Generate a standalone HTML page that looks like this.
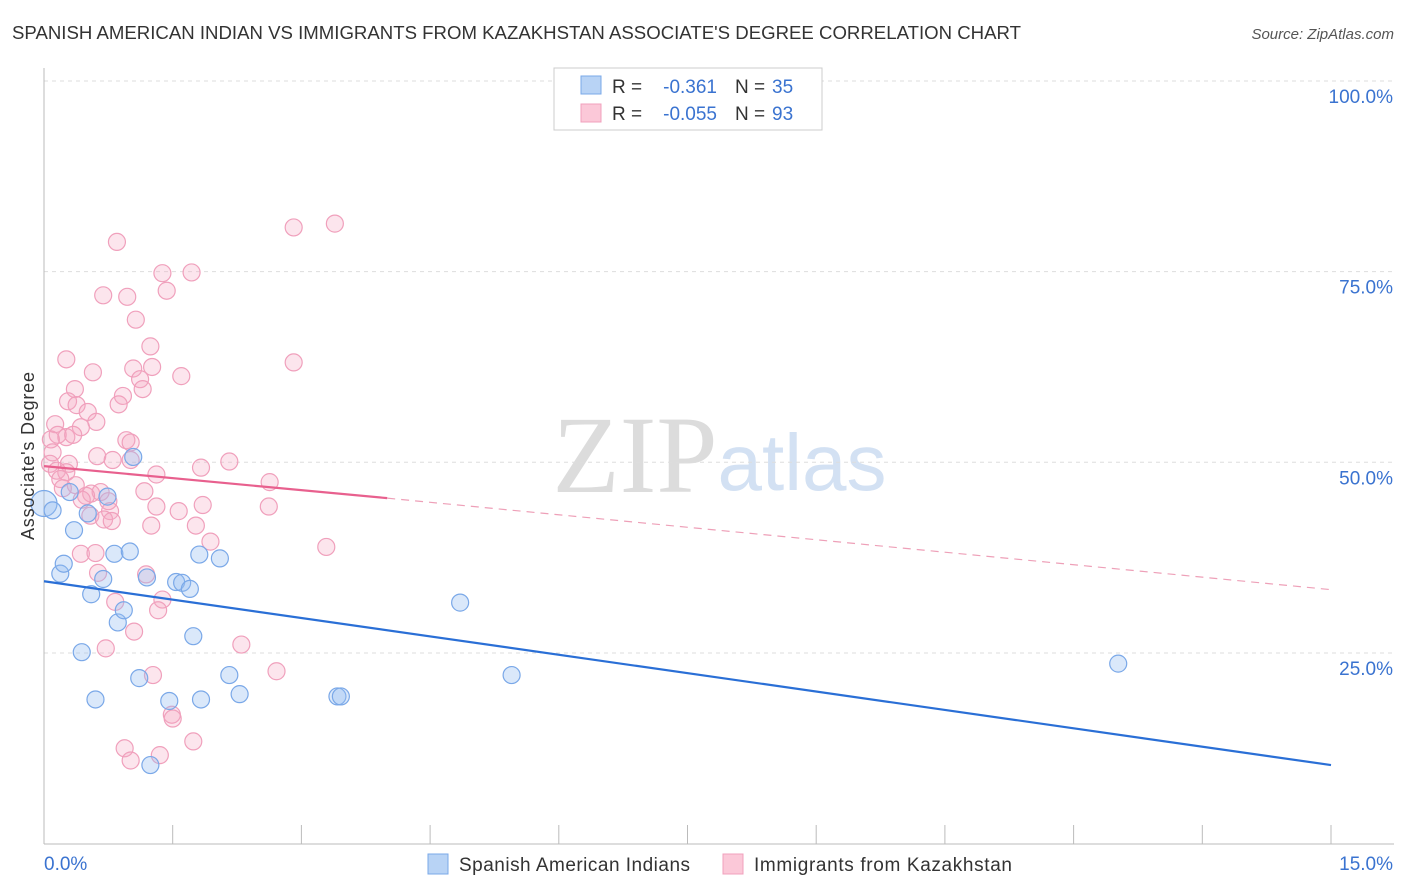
<!DOCTYPE html>
<html><head><meta charset="utf-8">
<style>
body{margin:0;background:#fff;font-family:"Liberation Sans",sans-serif;}
svg{display:block}
</style></head>
<body>
<svg id="chart" width="1406" height="892">
<text x="12" y="39" font-size="18" fill="#333" textLength="1009" lengthAdjust="spacingAndGlyphs">SPANISH AMERICAN INDIAN VS IMMIGRANTS FROM KAZAKHSTAN ASSOCIATE'S DEGREE CORRELATION CHART</text>
<text x="1394" y="39" font-size="15" fill="#555" font-style="italic" text-anchor="end">Source: ZipAtlas.com</text>
<g>
<text x="635" y="492" font-size="110" fill="#dcdcdc" font-family="Liberation Serif,serif" text-anchor="middle">ZIP</text>
<text x="802" y="490" font-size="80" fill="#d3e1f3" text-anchor="middle">atlas</text>
</g>
<g id="grid"></g>
<g id="axes"></g>
<g id="points"></g>
<g id="lines"></g>
<text transform="translate(34,456) rotate(-90)" font-size="18" fill="#333" text-anchor="middle" textLength="168">Associate's Degree</text>
<g>
<rect x="554" y="68" width="268" height="62" fill="#fff" stroke="#ccc"/>
<rect x="581" y="76" width="20" height="18" fill="#b8d3f5" stroke="#7aa8e8"/>
<rect x="581" y="104" width="20" height="18" fill="#fbc8d8" stroke="#f0a0bc"/>
<g font-size="19">
<text x="612" y="93" fill="#333">R =</text><text x="717" y="93" fill="#3a73d0" text-anchor="end">-0.361</text>
<text x="735" y="93" fill="#333">N =</text><text x="772" y="93" fill="#3a73d0">35</text></g>
<g font-size="19">
<text x="612" y="120" fill="#333">R =</text><text x="717" y="120" fill="#3a73d0" text-anchor="end">-0.055</text>
<text x="735" y="120" fill="#333">N =</text><text x="772" y="120" fill="#3a73d0">93</text></g>
</g>
<g>
<rect x="428" y="854" width="20" height="20" fill="#b8d3f5" stroke="#7aa8e8"/>
<text x="459" y="871" font-size="19" fill="#333" textLength="231">Spanish American Indians</text>
<rect x="723" y="854" width="20" height="20" fill="#fbc8d8" stroke="#f0a0bc"/>
<text x="754" y="871" font-size="19" fill="#333" textLength="258">Immigrants from Kazakhstan</text>
</g>
</svg>
<script>
const yTicks=[25,50,75,100];
const yTickLabels=["25.0%","50.0%","75.0%","100.0%"];
const xTickCount=10;
const xLabels=["0.0%","15.0%"];
const blueX=[0.0,0.1,0.19,0.23,0.3,0.35,0.44,0.51,0.55,0.6,0.69,0.74,0.82,0.86,0.93,1.0,1.04,1.11,1.2,1.24,1.46,1.54,1.61,1.7,1.74,1.81,1.83,2.05,2.16,2.28,3.42,3.46,4.85,5.45,12.52];
const blueY=[44.6,43.7,35.4,36.7,46.1,41.1,25.1,43.3,32.7,18.9,34.7,45.5,38.0,29.0,30.6,38.3,50.7,21.7,34.9,10.3,18.7,34.3,34.2,33.4,27.2,37.9,18.9,37.4,22.1,19.6,19.3,19.3,31.6,22.1,23.6];
const pinkX=[0.85,2.91,3.39,1.38,1.72,0.69,0.97,1.43,1.07,0.26,2.91,1.24,0.57,1.04,1.26,1.6,1.12,1.15,0.36,0.28,0.92,0.87,0.38,0.51,0.13,0.61,0.43,0.16,0.26,0.08,0.34,0.96,1.01,0.1,0.62,0.8,1.01,2.16,0.07,0.29,0.15,0.26,1.31,1.83,2.63,0.19,0.37,1.17,0.55,0.66,0.49,0.44,0.75,0.22,1.31,1.57,1.85,2.62,0.77,0.54,0.7,0.79,1.25,1.77,1.94,0.43,3.29,0.63,1.19,0.83,1.38,1.33,1.05,2.3,0.72,2.71,1.27,1.49,1.5,1.74,0.94,1.01,1.35,0.6];
const pinkY=[78.9,80.8,81.3,74.8,74.9,71.9,71.7,72.5,68.7,63.5,63.1,65.2,61.8,62.3,62.5,61.3,60.9,59.6,59.6,58.0,58.7,57.6,57.5,56.6,55.0,55.3,54.6,53.6,53.3,53.0,53.6,52.9,52.6,51.3,50.8,50.3,50.3,50.1,49.8,49.8,48.9,48.7,48.4,49.3,47.4,47.8,47.0,46.2,45.9,46.1,45.6,45.1,44.9,46.6,44.2,43.6,44.4,44.2,43.6,43.0,42.5,42.3,41.7,41.7,39.6,38.0,38.9,35.5,35.3,31.7,32.0,30.6,27.8,26.1,25.6,22.6,22.1,16.9,16.4,13.4,12.5,10.9,11.6,38.1];
const blueTrend=[[0,34.4],[15,10.3]];
const pinkTrend=[[0,49.5],[4,45.3],[15,33.3]];
const NS="http://www.w3.org/2000/svg";
const X0=44,X1=1331,Y0=843.6,Y100=81;
function xs(v){return X0+(v/15)*(X1-X0);}
function ys(v){return Y0-(v/100)*(Y0-Y100);}
function mk(tag,attrs,parent){const e=document.createElementNS(NS,tag);for(const k in attrs)e.setAttribute(k,attrs[k]);parent.appendChild(e);return e;}
const grid=document.getElementById('grid'),axes=document.getElementById('axes'),pts=document.getElementById('points'),lines=document.getElementById('lines');
yTicks.forEach((t,i)=>{
 const l=mk('line',{x1:X0,x2:1394,y1:ys(t),y2:ys(t),stroke:'#ddd','stroke-dasharray':'4,4'},grid);
 
 
 const tx=mk('text',{x:1393,y:ys(t)+22,'font-size':19,fill:'#3a73d0','text-anchor':'end'},axes);
 tx.textContent=yTickLabels[i];
 
 
});
const yax=mk('line',{x1:X0,x2:X0,y1:68,y2:844,stroke:'#bbb'},axes);


const xax=mk('line',{x1:X0,x2:1394,y1:844,y2:844,stroke:'#bbb'},axes);


for(let i=0;i<=xTickCount;i++){
 const t=mk('line',{x1:xs(i*15/xTickCount),x2:xs(i*15/xTickCount),y1:825,y2:844,stroke:'#bbb'},axes);
 
 
}
const xl0=mk('text',{x:44,y:870,'font-size':19,fill:'#3a73d0'},axes);xl0.textContent=xLabels[0];


const xl1=mk('text',{x:1393,y:870,'font-size':19,fill:'#3a73d0','text-anchor':'end'},axes);xl1.textContent=xLabels[1];


pinkX.forEach((v,i)=>{
 const c=mk('circle',{cx:xs(v),cy:ys(pinkY[i]),r:8.5,fill:'rgba(246,170,196,0.3)',stroke:'#f0a0bc','stroke-width':1.2},pts);
 
 
});
blueX.forEach((v,i)=>{
 const c=mk('circle',{cx:xs(v),cy:ys(blueY[i]),r:i==0?13:8.5,fill:'rgba(150,190,240,0.35)',stroke:'#7aa8e8','stroke-width':1.2},pts);
 
 
});
const bl=mk('line',{x1:xs(blueTrend[0][0]),y1:ys(blueTrend[0][1]),x2:xs(blueTrend[1][0]),y2:ys(blueTrend[1][1]),stroke:'#2a6fd6','stroke-width':2.2},lines);


const pl=mk('line',{x1:xs(pinkTrend[0][0]),y1:ys(pinkTrend[0][1]),x2:xs(pinkTrend[1][0]),y2:ys(pinkTrend[1][1]),stroke:'#e8608e','stroke-width':2.2},lines);


const pd=mk('line',{x1:xs(pinkTrend[1][0]),y1:ys(pinkTrend[1][1]),x2:xs(pinkTrend[2][0]),y2:ys(pinkTrend[2][1]),stroke:'#eea0b8','stroke-width':1.2,'stroke-dasharray':'8,6'},lines);


</script>
</body></html>
